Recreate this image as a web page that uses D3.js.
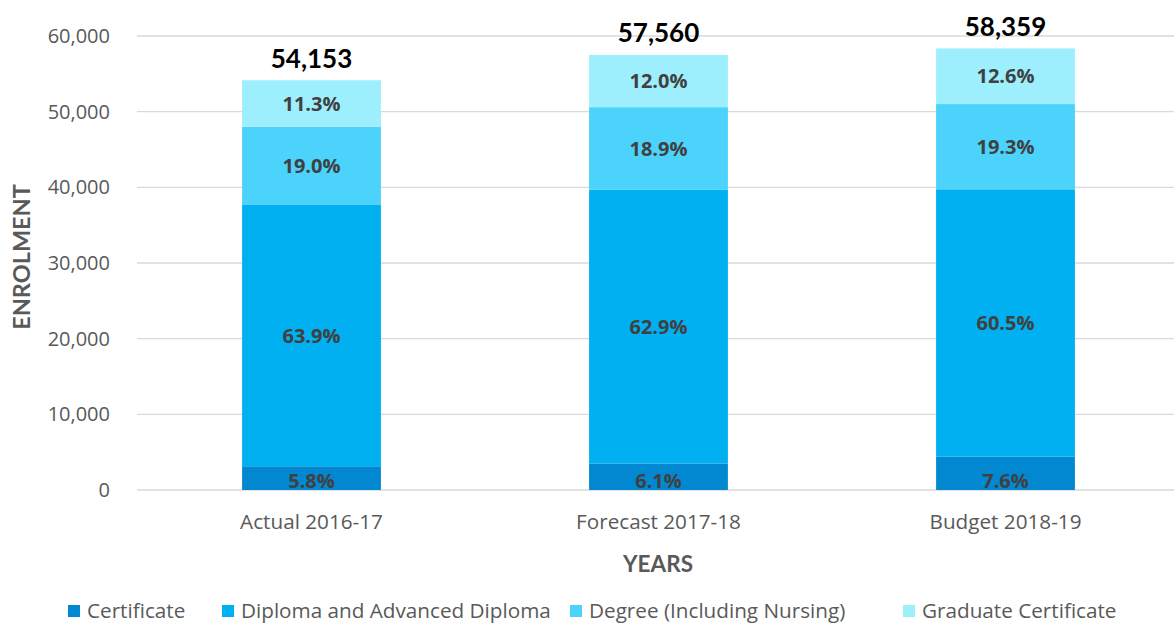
<!DOCTYPE html>
<html><head><meta charset="utf-8">
<script src="https://cdn.jsdelivr.net/npm/d3@7"></script>
<style>body{margin:0;background:#fff}svg{display:block}</style>
</head><body><div id="chart"></div>
<script>
const categories = ["Actual 2016-17","Forecast 2017-18","Budget 2018-19"];
const totals = [54153, 57560, 58359];
const seriesNames = ["Certificate","Diploma and Advanced Diploma","Degree (Including Nursing)","Graduate Certificate"];
const certificatePct = [5.8, 6.1, 7.6];
const diplomaPct = [63.9, 62.9, 60.5];
const degreePct = [19.0, 18.9, 19.3];
const graduatePct = [11.3, 12.0, 12.6];
const yTicks = [0,10000,20000,30000,40000,50000,60000];
const colors = ["#0288D1","#00B0F0","#4BD3FB","#9DEFFD"];

const W=1174,H=625;
const svg=d3.select("#chart").append("svg").attr("width",W).attr("height",H);
const x=d3.scaleBand().domain(categories).range([138,1179]).paddingInner(0.6).paddingOuter(0.3);
const y=d3.scaleLinear().domain([0,60000]).range([490,36]);

// gridlines
svg.append("g").selectAll("line").data(yTicks).join("line")
  .attr("x1",137).attr("x2",1174).attr("y1",d=>y(d)).attr("y2",d=>y(d))
  .attr("stroke","#d9d9d9").attr("stroke-width",1.3);

const pcts=[certificatePct,diplomaPct,degreePct,graduatePct];
const rows=categories.map((c,i)=>{const o={cat:c,total:totals[i]};seriesNames.forEach((s,k)=>o[s]=totals[i]*pcts[k][i]/100);return o;});
const stack=d3.stack().keys(seriesNames)(rows);

const g=svg.append("g");
stack.forEach((layer,k)=>{
  g.append("g").selectAll("rect").data(layer).join("rect")
   .attr("x",d=>x(d.data.cat)).attr("width",x.bandwidth())
   .attr("y",d=>y(d[1])).attr("height",d=>y(d[0])-y(d[1]))
   .attr("fill",colors[k]);
});
// percent labels
stack.forEach((layer,k)=>{
  g.append("g").selectAll("text").data(layer).join("text")
   .attr("x",d=>x(d.data.cat)+x.bandwidth()/2)
   .attr("y",(d,i)=> k===0 ? y(0)-1 : (y(d[0])+y(d[1]))/2)
   .attr("dy",k===0?"-0.05em":"0.36em")
   .attr("text-anchor","middle")
   .attr("font-family","Open Sans, sans-serif").attr("font-weight","bold").attr("font-size",20)
   .attr("fill","#404040")
   .text((d,i)=>pcts[k][i].toFixed(1)+"%");
});
// totals
g.append("g").selectAll("text").data(rows).join("text")
  .attr("x",d=>x(d.cat)+x.bandwidth()/2).attr("y",d=>y(d.total)-12)
  .attr("text-anchor","middle").attr("font-family","Lato, sans-serif").attr("font-weight","bold")
  .attr("font-size",26).attr("fill","#000").text(d=>d3.format(",")(d.total));

// y axis labels
const yAxis=d3.axisLeft(y).tickValues(yTicks).tickFormat(d3.format(",")).tickSize(0).tickPadding(0);
const ya=svg.append("g").attr("transform","translate(110,0)").call(yAxis);
ya.select(".domain").remove();
ya.selectAll("text").attr("font-family","Open Sans, sans-serif").attr("font-size",20).attr("fill","#595959");

// x axis labels
const xAxis=d3.axisBottom(x).tickSize(0).tickPadding(0);
const xa=svg.append("g").attr("transform","translate(0,514)").call(xAxis);
xa.select(".domain").remove();
xa.selectAll("text").attr("font-family","Open Sans, sans-serif").attr("font-size",20.7).attr("fill","#595959");

// axis titles
svg.append("text").attr("x",658).attr("y",572).attr("text-anchor","middle")
  .attr("font-family","Lato, sans-serif").attr("font-weight","bold").attr("font-size",22.5).attr("fill","#595959").text("YEARS");
svg.append("text").attr("transform","translate(30,257) rotate(-90)").attr("text-anchor","middle")
  .attr("font-family","Lato, sans-serif").attr("font-weight","bold").attr("font-size",23.5).attr("fill","#595959").text("ENROLMENT");

// legend
const legX=[68,222,570,903];
const lg=svg.append("g").selectAll("g").data(seriesNames).join("g")
  .attr("transform",(d,i)=>`translate(${legX[i]},605)`);
lg.append("rect").attr("width",12).attr("height",12).attr("fill",(d,i)=>colors[i]);
lg.append("text").attr("x",19).attr("y",6).attr("dy","0.36em")
  .attr("font-family","Open Sans, sans-serif").attr("font-size",20.7).attr("fill","#595959").text(d=>d);
</script></body></html>
